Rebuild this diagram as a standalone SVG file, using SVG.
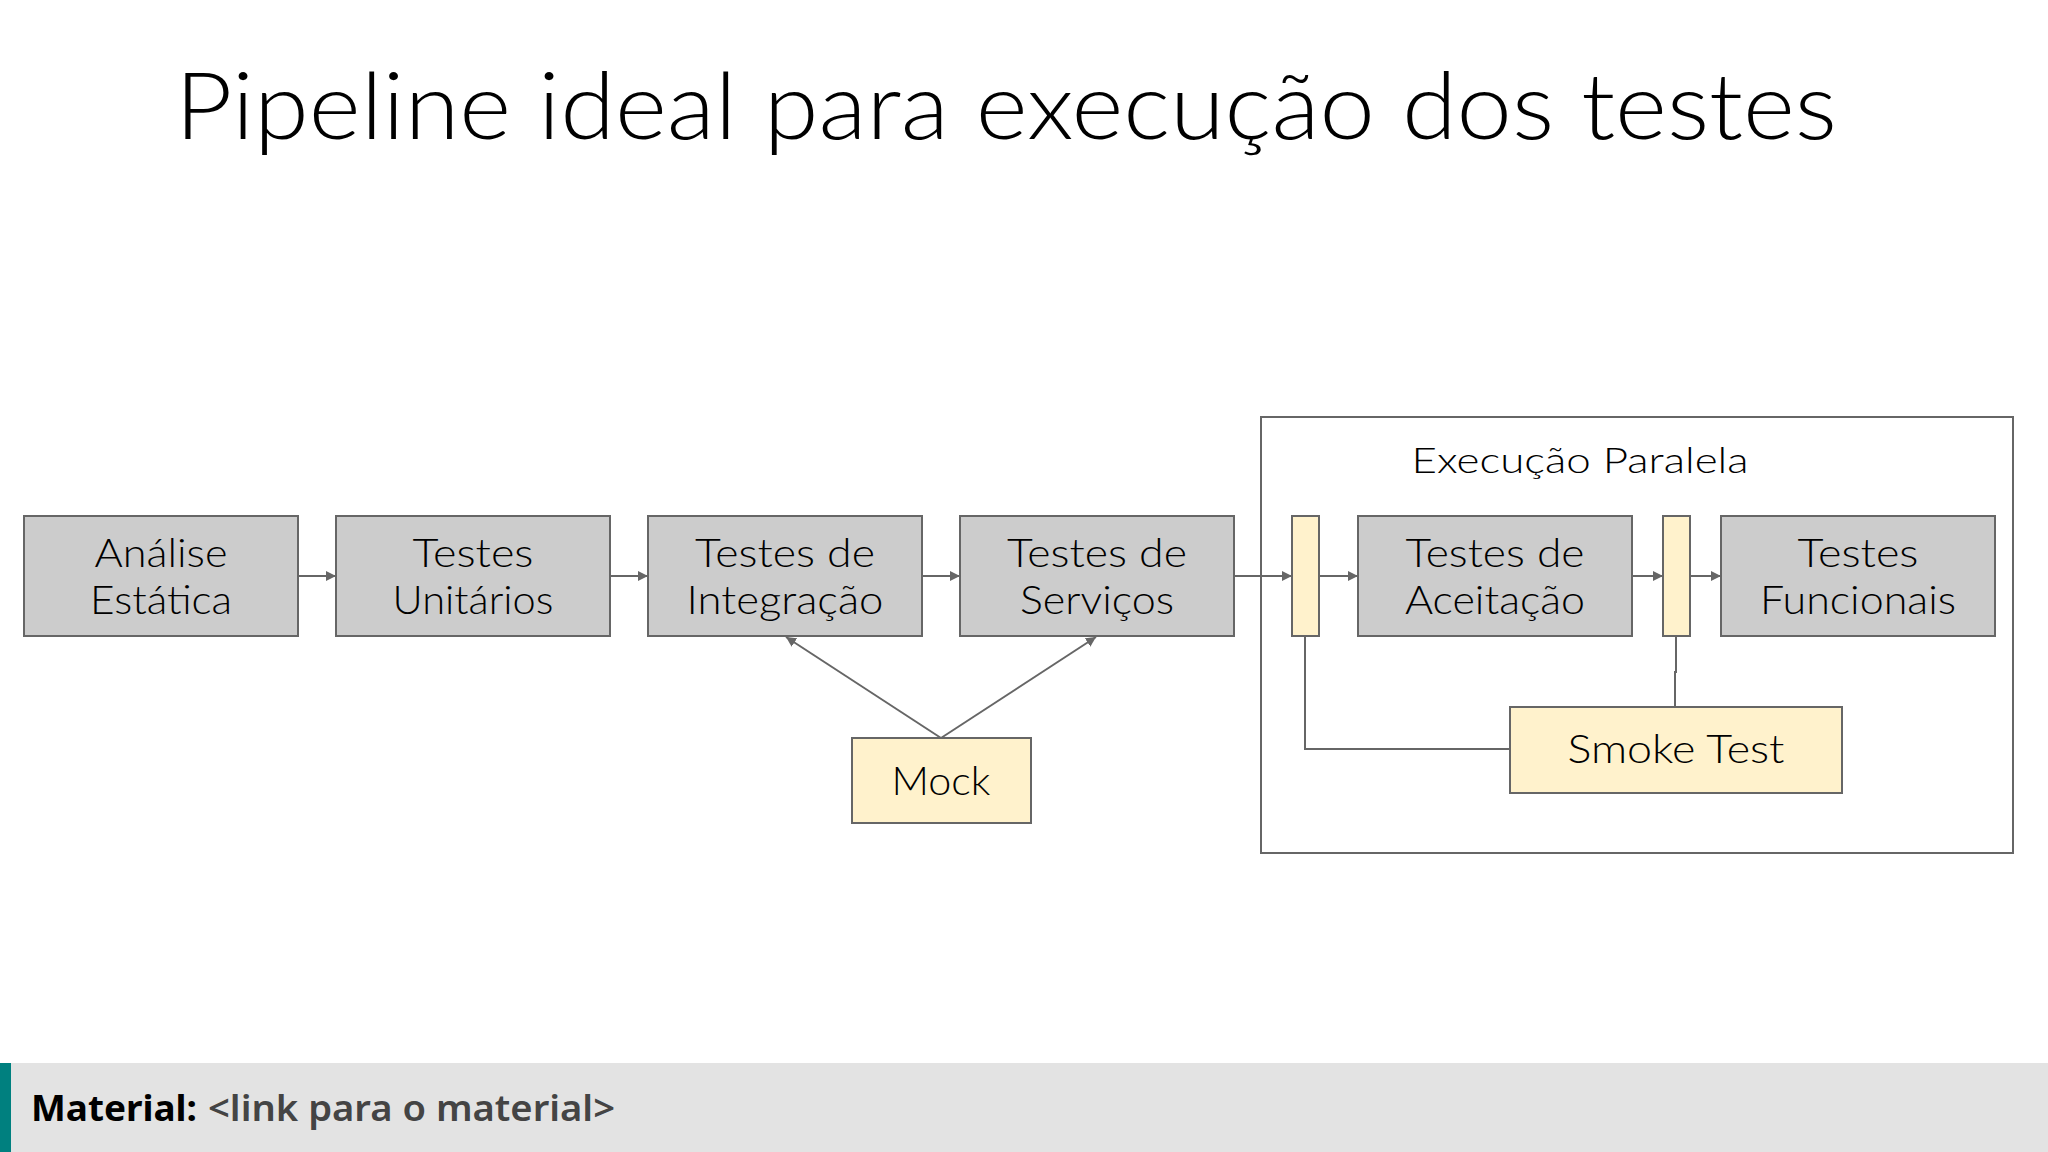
<svg xmlns="http://www.w3.org/2000/svg" width="2048" height="1152" viewBox="0 0 2048 1152">
<defs>
<style>
.box{fill:#cccccc;stroke:#666666;stroke-width:2}
.yel{fill:#fff2cc;stroke:#666666;stroke-width:2}
.lbl{font-family:Lato,"Open Sans","Liberation Sans",sans-serif;font-weight:300;font-size:40px;fill:#000;text-anchor:middle}
.con{fill:none;stroke:#666666;stroke-width:2}
.arr{marker-end:url(#ah)}
</style>
<marker id="ah" viewBox="0 0 10 10" refX="10" refY="5" markerWidth="10" markerHeight="10" markerUnits="userSpaceOnUse" orient="auto">
<path d="M0,0 L10,5 L0,10 z" fill="#666666"/>
</marker>
</defs>
<rect width="2048" height="1152" fill="#ffffff"/>
<text x="175" y="139" font-family="Lato,'Open Sans','Liberation Sans',sans-serif" font-weight="300" font-size="92" fill="#000" textLength="1662" lengthAdjust="spacingAndGlyphs">Pipeline ideal para execução dos testes</text>

<g id="grupo-execucao-paralela">
<rect x="1261" y="417" width="752" height="436" fill="none" stroke="#666666" stroke-width="2"/>
<text x="1580" y="473" class="lbl" style="font-size:36px" textLength="337" lengthAdjust="spacingAndGlyphs">Execução Paralela</text>
</g>

<g id="connectors">
<line class="con arr" x1="298" y1="576" x2="336" y2="576"/>
<line class="con arr" x1="610" y1="576" x2="648" y2="576"/>
<line class="con arr" x1="922" y1="576" x2="960" y2="576"/>
<line class="con arr" x1="1234" y1="576" x2="1292" y2="576"/>
<line class="con arr" x1="1319" y1="576" x2="1358" y2="576"/>
<line class="con arr" x1="1632" y1="576" x2="1663" y2="576"/>
<line class="con arr" x1="1690" y1="576" x2="1721" y2="576"/>
<line class="con arr" x1="941" y1="738" x2="786" y2="637"/>
<line class="con arr" x1="941" y1="738" x2="1096" y2="637"/>
<polyline class="con" points="1305,636 1305,749 1510,749"/>
<polyline class="con" points="1676,636 1676,672 1675,672 1675,707"/>
</g>

<g id="analise-estatica">
<rect class="box" x="24" y="516" width="274" height="120"/>
<text class="lbl" x="161" y="567" textLength="133" lengthAdjust="spacingAndGlyphs">Análise</text>
<text class="lbl" x="161" y="614" textLength="142" lengthAdjust="spacingAndGlyphs">Estática</text>
</g>
<g id="testes-unitarios">
<rect class="box" x="336" y="516" width="274" height="120"/>
<text class="lbl" x="473" y="567" textLength="121" lengthAdjust="spacingAndGlyphs">Testes</text>
<text class="lbl" x="473" y="614" textLength="161" lengthAdjust="spacingAndGlyphs">Unitários</text>
</g>
<g id="testes-integracao">
<rect class="box" x="648" y="516" width="274" height="120"/>
<text class="lbl" x="785" y="567" textLength="180" lengthAdjust="spacingAndGlyphs">Testes de</text>
<text class="lbl" x="785" y="614" textLength="197" lengthAdjust="spacingAndGlyphs">Integração</text>
</g>
<g id="testes-servicos">
<rect class="box" x="960" y="516" width="274" height="120"/>
<text class="lbl" x="1097" y="567" textLength="180" lengthAdjust="spacingAndGlyphs">Testes de</text>
<text class="lbl" x="1097" y="614" textLength="154" lengthAdjust="spacingAndGlyphs">Serviços</text>
</g>
<g id="mock">
<rect class="yel" x="852" y="738" width="179" height="85"/>
<text class="lbl" x="941" y="795" textLength="99" lengthAdjust="spacingAndGlyphs">Mock</text>
</g>
<g id="portao-1">
<rect class="yel" x="1292" y="516" width="27" height="120"/>
</g>
<g id="testes-aceitacao">
<rect class="box" x="1358" y="516" width="274" height="120"/>
<text class="lbl" x="1495" y="567" textLength="179" lengthAdjust="spacingAndGlyphs">Testes de</text>
<text class="lbl" x="1495" y="614" textLength="180" lengthAdjust="spacingAndGlyphs">Aceitação</text>
</g>
<g id="portao-2">
<rect class="yel" x="1663" y="516" width="27" height="120"/>
</g>
<g id="testes-funcionais">
<rect class="box" x="1721" y="516" width="274" height="120"/>
<text class="lbl" x="1858" y="567" textLength="121" lengthAdjust="spacingAndGlyphs">Testes</text>
<text class="lbl" x="1858" y="614" textLength="196" lengthAdjust="spacingAndGlyphs">Funcionais</text>
</g>
<g id="smoke-test">
<rect class="yel" x="1510" y="707" width="332" height="86"/>
<text class="lbl" x="1676" y="763" textLength="217" lengthAdjust="spacingAndGlyphs">Smoke Test</text>
</g>

<g id="rodape">
<rect x="0" y="1063" width="2048" height="89" fill="#e3e3e3"/>
<rect x="0" y="1063" width="11" height="89" fill="#00807f"/>
<text x="31" y="1121" font-family="'Noto Sans','Open Sans','Liberation Sans',sans-serif" font-size="36" font-weight="700" fill="#000" textLength="166" lengthAdjust="spacingAndGlyphs">Material:</text>
<text x="208" y="1121" font-family="'Noto Sans','Open Sans','Liberation Sans',sans-serif" font-size="36" font-weight="600" fill="#444444" textLength="407" lengthAdjust="spacingAndGlyphs">&lt;link para o material&gt;</text>
</g>
</svg>
